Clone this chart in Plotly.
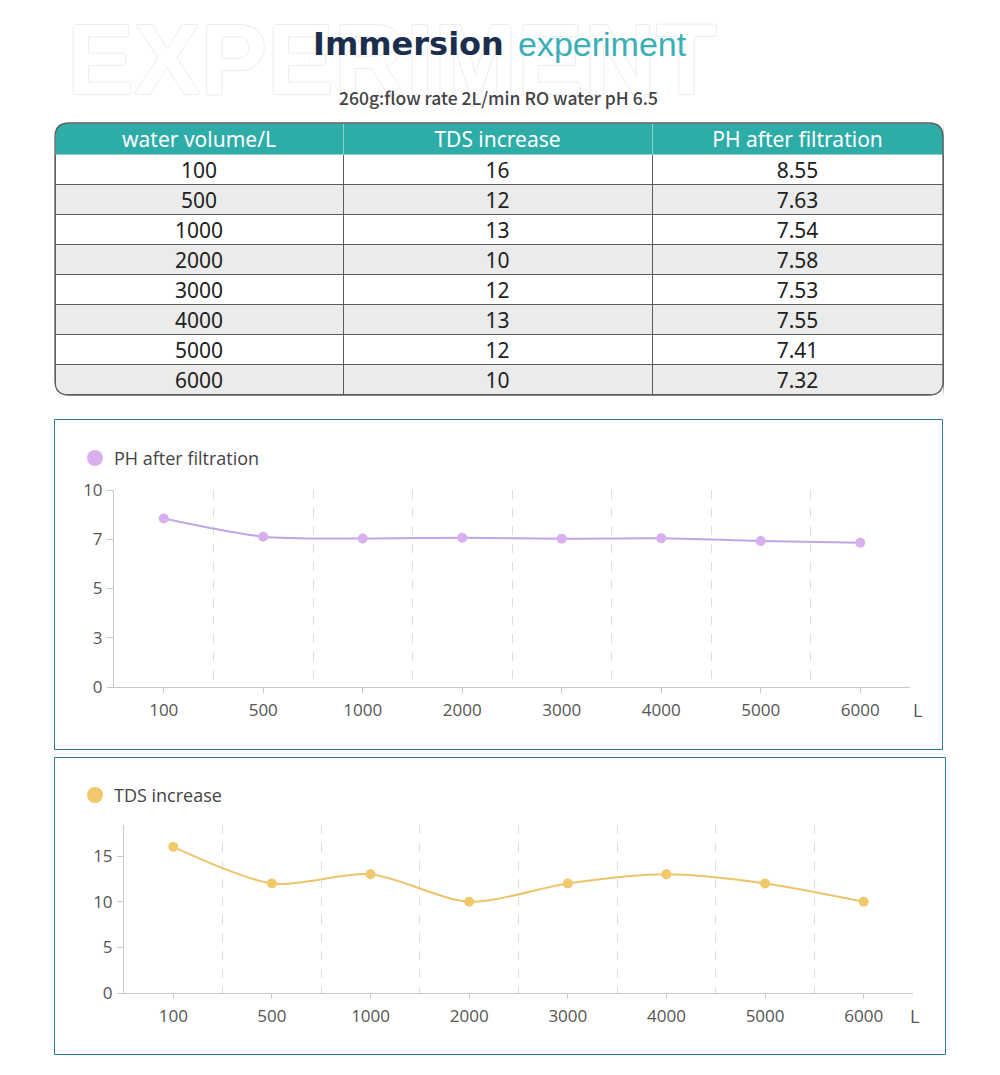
import plotly.graph_objects as go

# ---------------- data ----------------
volumes = ["100", "500", "1000", "2000", "3000", "4000", "5000", "6000"]
tds_increase = [16, 12, 13, 10, 12, 13, 12, 10]
ph_after = [8.55, 7.63, 7.54, 7.58, 7.53, 7.55, 7.41, 7.32]
table_headers = ["water volume/L", "TDS increase", "PH after filtration"]
ph_tickvals = [0, 2.5, 5, 7.5, 10]
ph_ticktext = ["0", "3", "5", "7", "10"]
tds_tickvals = [0, 5, 10, 15]
x_unit = "L"
title_bold = "Immersion"
title_light = "experiment"
subtitle = "260g:flow rate 2L/min RO water pH 6.5"
watermark = "EXPERIMENT"

# ---------------- helpers ----------------
W, H = 1000, 1075
OFF = 8  # page body margin


def px(x):
    return (x - OFF) / W


def py(y):
    return 1 - (y - OFF) / H


TEAL = "#2EADA8"
GRAY_ROW = "#EBEBEB"
BORDER = "#5C5C5C"
BOX = "#2E75A0"
AXIS = "#C8C8C8"
TICKFONT = dict(family="Open Sans", size=17, color="#555555")
PH_LINE = "#BCA8E8"
PH_MARK = "#D9AFEF"
TDS_LINE = "#EEC46A"
TDS_MARK = "#F1C86C"

idx = list(range(len(volumes)))

fig = go.Figure()

# ---------------- table ----------------
row_fill = ["#FFFFFF" if i % 2 == 0 else GRAY_ROW for i in range(len(volumes))]
fig.add_trace(go.Table(
    domain=dict(x=[px(55), px(943)], y=[py(396), py(123)]),
    columnwidth=[288, 309, 291],
    header=dict(
        values=table_headers,
        fill_color=TEAL,
        line=dict(color="#8FD2CD", width=1),
        font=dict(family="Noto Sans", size=21, color="white"),
        align="center",
        height=31,
    ),
    cells=dict(
        values=[volumes, tds_increase, [f"{v:.2f}" for v in ph_after]],
        fill_color=[row_fill] * 3,
        line=dict(color=BORDER, width=1),
        font=dict(family="Noto Sans", size=21, color="#222222"),
        align="center",
        height=30,
    ),
))

# ---------------- PH chart ----------------
fig.add_trace(go.Scatter(
    x=idx, y=ph_after, mode="lines+markers", name="PH after filtration",
    line=dict(color=PH_LINE, width=2, shape="spline", smoothing=0.8),
    marker=dict(color=PH_MARK, size=10),
    xaxis="x", yaxis="y", showlegend=False,
))

# ---------------- TDS chart ----------------
fig.add_trace(go.Scatter(
    x=idx, y=tds_increase, mode="lines+markers", name="TDS increase",
    line=dict(color=TDS_LINE, width=2, shape="spline", smoothing=0.8),
    marker=dict(color=TDS_MARK, size=10),
    xaxis="x2", yaxis="y2", showlegend=False,
))

xaxis_common = dict(
    range=[-0.5, len(volumes) - 0.5001],
    tickmode="array", tickvals=idx, ticktext=volumes,
    showline=True, linecolor=AXIS, linewidth=1,
    ticks="outside", ticklen=5, tickcolor=AXIS,
    tickfont=TICKFONT, ticklabelstandoff=3,
    showgrid=False, zeroline=False, fixedrange=True, automargin=False,
    minor=dict(tick0=0.5, dtick=1, showgrid=True, gridcolor="#DDDDDD",
               griddash="dash", gridwidth=1, ticklen=0),
)
yaxis_common = dict(
    showline=True, linecolor=AXIS, linewidth=1,
    ticks="outside", ticklen=6, tickcolor=AXIS,
    tickfont=TICKFONT, ticklabelstandoff=1,
    showgrid=False, zeroline=False, fixedrange=True, automargin=False,
)

fig.update_layout(
    width=W, height=H,
    margin=dict(l=0, r=0, t=0, b=0, pad=0, autoexpand=False),
    paper_bgcolor="white", plot_bgcolor="white",
    showlegend=False,
    xaxis=dict(domain=[px(114), px(910)], anchor="y", **xaxis_common),
    yaxis=dict(domain=[py(687), py(490)], anchor="x", range=[0, 10],
               tickmode="array", tickvals=ph_tickvals, ticktext=ph_ticktext,
               **yaxis_common),
    xaxis2=dict(domain=[px(124), px(913)], anchor="y2", **xaxis_common),
    yaxis2=dict(domain=[py(993), py(825)], anchor="x2", range=[0, 18.4],
                tickmode="array", tickvals=tds_tickvals,
                **yaxis_common),
)

# ---------------- shapes ----------------
shapes = []
# chart boxes
shapes.append(dict(type="rect", xref="paper", yref="paper",
                   x0=px(54.5), x1=px(942.5), y0=py(749.5), y1=py(419.5),
                   line=dict(color=BOX, width=1), fillcolor="rgba(0,0,0,0)"))
shapes.append(dict(type="rect", xref="paper", yref="paper",
                   x0=px(54.5), x1=px(945.5), y0=py(1054.5), y1=py(757.5),
                   line=dict(color=BOX, width=1), fillcolor="rgba(0,0,0,0)"))
# legend dots
for cy, col in [(458, PH_MARK), (795, TDS_MARK)]:
    shapes.append(dict(type="circle", xref="paper", yref="paper",
                       x0=px(87), x1=px(103), y0=py(cy + 8), y1=py(cy - 8),
                       line=dict(width=0), fillcolor=col))

# rounded table border + corner masks
tx0, ty0, tx1, ty1, r = 55, 123, 943, 395, 14


def P(x, y):
    return f"{px(x):.5f},{py(y):.5f}"


rounded = (f"M {P(tx0 + r, ty0)} L {P(tx1 - r, ty0)} Q {P(tx1, ty0)} {P(tx1, ty0 + r)} "
           f"L {P(tx1, ty1 - r)} Q {P(tx1, ty1)} {P(tx1 - r, ty1)} "
           f"L {P(tx0 + r, ty1)} Q {P(tx0, ty1)} {P(tx0, ty1 - r)} "
           f"L {P(tx0, ty0 + r)} Q {P(tx0, ty0)} {P(tx0 + r, ty0)} Z")
masks = [
    (tx0, ty0, tx0 + r, ty0, tx0, ty0 + r),
    (tx1, ty0, tx1 - r, ty0, tx1, ty0 + r),
    (tx1, ty1, tx1, ty1 - r, tx1 - r, ty1),
    (tx0, ty1, tx0, ty1 - r, tx0 + r, ty1),
]
for cx, cy, ax, ay, bx, by in masks:
    shapes.append(dict(type="path", xref="paper", yref="paper", layer="above",
                       path=f"M {P(cx - 1 if cx == tx0 else cx + 1, cy - 1 if cy == ty0 else cy + 1)} "
                            f"L {P(ax, ay)} Q {P(cx, cy)} {P(bx, by)} Z",
                       fillcolor="white", line=dict(width=0)))
shapes.append(dict(type="path", xref="paper", yref="paper", layer="above",
                   path=rounded, line=dict(color=BORDER, width=1.3),
                   fillcolor="rgba(0,0,0,0)"))
fig.update_layout(shapes=shapes)

# ---------------- annotations ----------------
ann = []
ann.append(dict(text=watermark, xref="paper", yref="paper", x=px(392), y=py(59),
                showarrow=False, xanchor="center", yanchor="middle",
                font=dict(family="Liberation Sans", size=100, color="white", weight="bold",
                          shadow="1px 0 0 #EDEDED, -1px 0 0 #EDEDED, 0 1px 0 #EDEDED, 0 -1px 0 #EDEDED")))
ann.append(dict(text=title_bold, xref="paper", yref="paper", x=px(506), y=py(44),
                showarrow=False, xanchor="right", yanchor="middle",
                font=dict(family="DejaVu Sans", size=32, color="#1B2E4D", weight="bold")))
ann.append(dict(text=title_light, xref="paper", yref="paper", x=px(516), y=py(44),
                showarrow=False, xanchor="left", yanchor="middle",
                font=dict(family="Liberation Sans", size=34, color="#3AAFB8")))
ann.append(dict(text=subtitle, xref="paper", yref="paper", x=px(498), y=py(97),
                showarrow=False, xanchor="center", yanchor="middle",
                font=dict(family="Noto Sans CJK SC", size=17.5, color="#444444", weight=500)))
ann.append(dict(text="PH after filtration", xref="paper", yref="paper", x=px(112), y=py(458),
                showarrow=False, xanchor="left", yanchor="middle",
                font=dict(family="Open Sans", size=18, color="#444444")))
ann.append(dict(text="TDS increase", xref="paper", yref="paper", x=px(112), y=py(795),
                showarrow=False, xanchor="left", yanchor="middle",
                font=dict(family="Open Sans", size=18, color="#444444")))
ann.append(dict(text=x_unit, xref="paper", yref="paper", x=px(917), y=py(710),
                showarrow=False, xanchor="center", yanchor="middle",
                font=dict(family="Open Sans", size=18, color="#555555")))
ann.append(dict(text=x_unit, xref="paper", yref="paper", x=px(914), y=py(1016),
                showarrow=False, xanchor="center", yanchor="middle",
                font=dict(family="Open Sans", size=18, color="#555555")))
fig.update_layout(annotations=ann)

fig.write_html("out.html")
